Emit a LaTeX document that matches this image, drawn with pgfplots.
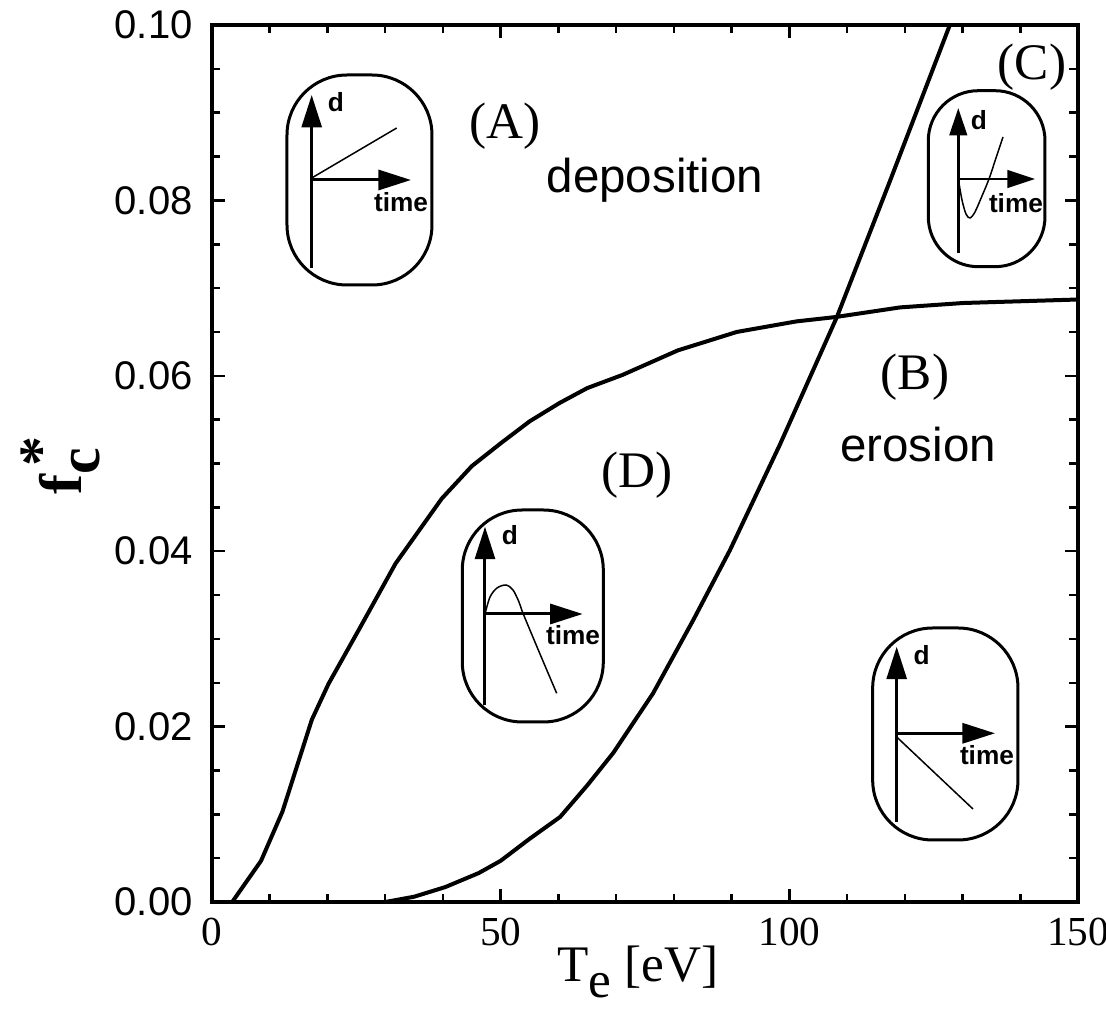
\documentclass[border=0pt]{standalone}
\usepackage{fontspec}
\setmainfont{Liberation Serif}
\newfontfamily\sansf{Liberation Sans}
\usepackage{pgfplots}
\pgfplotsset{compat=1.18}
\usetikzlibrary{arrows.meta}

\begin{document}
\begin{tikzpicture}
\useasboundingbox (0,0) rectangle (442.4pt,405.2pt);
\begin{axis}[
  at={(84.8pt,44.4pt)}, anchor=south west,
  scale only axis, width=346.4pt, height=350.8pt,
  xmin=0, xmax=150, ymin=0, ymax=0.1,
  xtick={0,50,100,150},
  minor xtick={10,20,30,40,60,70,80,90,110,120,130,140},
  ytick={0,0.02,0.04,0.06,0.08,0.1},
  minor ytick={0.005,0.01,0.015,0.025,0.03,0.035,0.045,0.05,0.055,0.065,0.07,0.075,0.085,0.09,0.095},
  tick align=inside,
  major tick length=5.2pt, minor tick length=3.4pt,
  every tick/.style={black, line width=1pt},
  axis line style={line width=1.8pt},
  scaled y ticks=false,
  yticklabel style={/pgf/number format/fixed, /pgf/number format/fixed zerofill, /pgf/number format/precision=2},
  /pgf/number format/assume math mode=true,
  y tick label style={font=\sansf\fontsize{16}{18}\selectfont, inner sep=0pt, xshift=-7.6pt},
  x tick label style={font=\fontsize{16.5}{19}\selectfont, inner sep=0pt, yshift=-6.4pt},
  xlabel={T\raisebox{-0.3em}{e} [eV]},
  xlabel style={at={(axis description cs:0.4919,-0.091)}, anchor=base, font=\fontsize{20.5}{24}\selectfont, inner sep=0pt},
  ylabel={\textbf{f\raisebox{-0.3em}{c}\kern-0.31em\raisebox{0.35em}{*}}},
  ylabel style={at={(axis description cs:-0.1755,0.498)}, anchor=center, font=\fontsize{24}{28}\selectfont},
]
\addplot[black, line width=1.6pt, line join=round] coordinates {
(0,0) (3.5,0) (8.5,0.0047) (12.2,0.0103) (17.3,0.0208) (20.2,0.0249) (25.4,0.031) (31.8,0.0386) (39.8,0.046) (45,0.0497) (50,0.0523) (55,0.0548) (60.2,0.0569) (65,0.0586) (71.1,0.0601) (80.7,0.0629) (90.9,0.065) (101.2,0.0662) (108,0.0667) (119.2,0.0678) (130.1,0.0683) (150,0.0687)
};
\addplot[black, line width=1.6pt, line join=round] coordinates {
(0,0) (30,0) (35,0.0006) (40.4,0.0017) (46.2,0.0033) (50,0.0047) (55,0.0072) (60.3,0.0097) (65,0.0133) (69.5,0.017) (76.4,0.0238) (83.4,0.0322) (89.7,0.0401) (98.4,0.0522) (108.3,0.0668) (117.6,0.0825) (127.8,0.1)
};
\end{axis}

\begin{scope}[x=0.4pt, y=-0.4pt, shift={(0pt,405.2pt)}]
\tikzset{
  box/.style={line width=1.2pt, rounded corners=24pt},
  ar/.style={line width=1.2pt, -{Triangle[length=13pt,width=8pt]}},
  ars/.style={line width=1.1pt, -{Triangle[length=11pt,width=7pt]}},
  sk/.style={line width=0.6pt},
  lbl/.style={font=\sansf\bfseries\fontsize{10.5}{12}\selectfont, inner sep=0pt},
}
% region labels
\node[font=\fontsize{20.5}{24}\selectfont] at (505,126) {(A)};
\node[font=\sansf\fontsize{19}{22}\selectfont] at (655,180) {deposition};
\node[font=\fontsize{20.5}{24}\selectfont] at (1032,67) {(C)};
\node[font=\fontsize{20.5}{24}\selectfont] at (915,377) {(B)};
\node[font=\sansf\fontsize{19}{22}\selectfont] at (918,445) {erosion};
\node[font=\fontsize{20.5}{24}\selectfont] at (637,475) {(D)};

% inset A
\draw[box] (287,75) rectangle (432,285);
\draw[ar] (311.7,268) -- (311.7,95);
\draw[ar] (311.7,180) -- (411,180);
\draw[sk] (311.7,178) -- (396.7,128);
\node[lbl] at (336,102) {d};
\node[lbl] at (401,202) {time};

% inset B
\draw[box] (872.7,628) rectangle (1018,840);
\draw[ar] (896.7,821.7) -- (896.7,646.7);
\draw[ar] (896.7,733.3) -- (995,733.3);
\draw[sk] (896.7,737) -- (973,809);
\node[lbl] at (921.7,655) {d};
\node[lbl] at (987,755) {time};

% inset C
\draw[line width=1.2pt, rounded corners=20pt] (928.3,90.7) rectangle (1045,266.7);
\draw[ars] (958.3,253) -- (958.3,108);
\draw[ars] (958.3,179) -- (1035,179);
\draw[sk] plot[smooth] coordinates {(958.3,179) (962,200) (966,214) (970,218) (975,212) (982,196) (989,179) (996,158) (1003,137)};
\node[lbl] at (979,120) {d};
\node[lbl] at (1016,203) {time};

% inset D
\draw[box] (462.3,510) rectangle (603.3,722);
\draw[ar] (485,705) -- (485,526.7);
\draw[ar] (485,614) -- (582.7,614);
\draw[sk] plot[smooth] coordinates {(485,614) (490,597) (497,588) (506,585) (513,590) (519,602) (523.3,614) (540,654) (556.7,693.3)};
\node[lbl] at (510,535) {d};
\node[lbl] at (573,635) {time};
\end{scope}
\end{tikzpicture}
\end{document}
